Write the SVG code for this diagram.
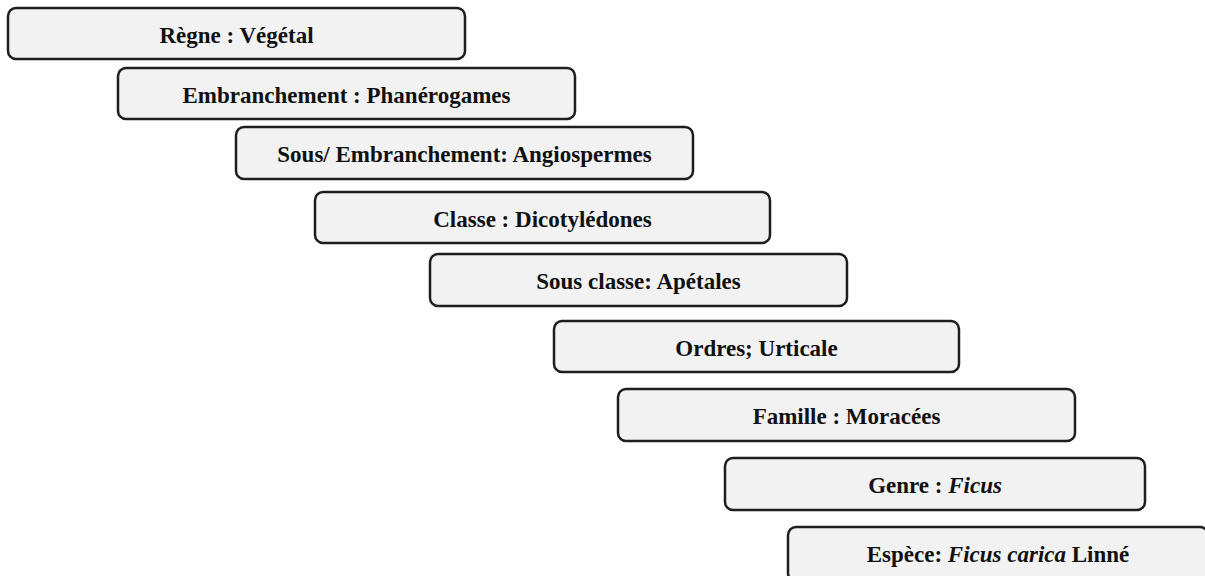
<svg xmlns="http://www.w3.org/2000/svg" width="1205" height="576" viewBox="0 0 1205 576">
<style>
.box{fill:#f2f2f2;stroke:#1e1e1e;stroke-width:2.5}
.lbl{font-family:"Liberation Serif","Times New Roman",serif;font-weight:bold;font-size:23px;fill:#111;text-anchor:middle}
.it{font-style:italic}
</style>
<rect width="1205" height="576" fill="#ffffff"/>
<g id="connectors"></g>
<g id="n1"><rect class="box" x="8" y="8" width="457" height="51" rx="8"/><text class="lbl" x="236.5" y="43">Règne : Végétal</text></g>
<g id="n2"><rect class="box" x="118" y="68" width="457" height="51" rx="8"/><text class="lbl" x="346.5" y="103">Embranchement : Phanérogames</text></g>
<g id="n3"><rect class="box" x="236" y="127" width="457" height="52" rx="8"/><text class="lbl" x="464.5" y="162">Sous/ Embranchement: Angiospermes</text></g>
<g id="n4"><rect class="box" x="315" y="192" width="455" height="51" rx="8"/><text class="lbl" x="542.5" y="227">Classe : Dicotylédones</text></g>
<g id="n5"><rect class="box" x="430" y="254" width="417" height="52" rx="8"/><text class="lbl" x="638.5" y="289">Sous classe: Apétales</text></g>
<g id="n6"><rect class="box" x="554" y="321" width="405" height="51" rx="8"/><text class="lbl" x="756.5" y="356">Ordres; Urticale</text></g>
<g id="n7"><rect class="box" x="618" y="389" width="457" height="52" rx="8"/><text class="lbl" x="846.5" y="424">Famille : Moracées</text></g>
<g id="n8"><rect class="box" x="725" y="458" width="420" height="52" rx="8"/><text class="lbl" x="935" y="493">Genre : <tspan class="it">Ficus</tspan></text></g>
<g id="n9"><rect class="box" x="788" y="527" width="420" height="54" rx="8"/><text class="lbl" x="998" y="562">Espèce: <tspan class="it">Ficus carica</tspan> Linné</text></g>
</svg>
